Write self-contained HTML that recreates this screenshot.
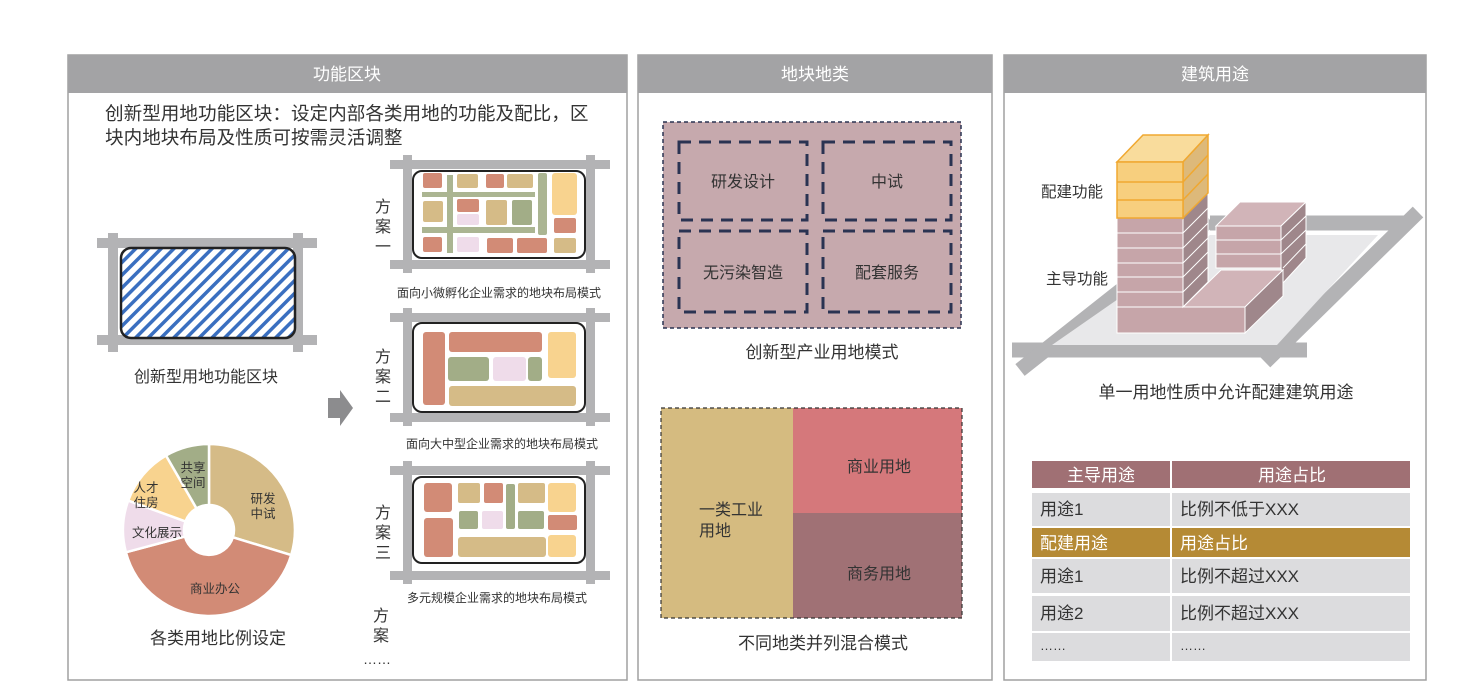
<!DOCTYPE html>
<html><head><meta charset="utf-8"><style>
html,body{margin:0;padding:0;background:#fff}
svg{display:block}
text{font-family:"Liberation Sans","Noto Sans CJK SC",sans-serif;fill:#333}
</style></head><body>
<svg width="1482" height="692" viewBox="0 0 1482 692" xmlns="http://www.w3.org/2000/svg">
<defs>
<pattern id="hatch" width="9" height="9" patternUnits="userSpaceOnUse" patternTransform="rotate(45)">
<rect width="9" height="9" fill="#fff"/><rect x="0" y="0" width="3.5" height="9" fill="#3a6fc0"/>
</pattern>
</defs>
<g fill="#fff" stroke="#a0a0a0" stroke-width="1.5">
<rect x="68" y="55" width="559" height="625"/>
<rect x="638" y="55" width="354" height="625"/>
<rect x="1004" y="55" width="422" height="625"/>
</g>
<g fill="#a3a3a5">
<rect x="68" y="55" width="559" height="38"/>
<rect x="638" y="55" width="354" height="38"/>
<rect x="1004" y="55" width="422" height="38"/>
</g>
<g font-size="17" text-anchor="middle">
<text x="347" y="80" style="fill:#fff">功能区块</text>
<text x="815" y="80" style="fill:#fff">地块地类</text>
<text x="1215" y="80" style="fill:#fff">建筑用途</text>
</g>
<text x="105" y="120" font-size="18.6">创新型用地功能区块：设定内部各类用地的功能及配比，区</text>
<text x="105" y="144" font-size="18.6">块内地块布局及性质可按需灵活调整</text>

<g fill="#b3b3b5">
<rect x="97" y="238" width="220" height="10"/><rect x="97" y="335" width="220" height="10"/>
<rect x="108" y="233" width="10" height="119"/><rect x="293" y="233" width="10" height="119"/>
</g>
<rect x="121" y="248" width="174" height="90" rx="10" fill="url(#hatch)" stroke="#222" stroke-width="2.5"/>
<text x="206" y="382" font-size="16" text-anchor="middle">创新型用地功能区块</text>
<polygon points="328,398 340,398 340,390 353,408 340,426 340,418 328,418" fill="#8c8c8e"/>

<g stroke="#fff" stroke-width="2.5">
<path d="M209,444 A86,86 0 0 1 291.2,555.1 L232.9,537.3 A25,25 0 0 0 209,505 Z" fill="#d5bb87"/>
<path d="M291.2,555.1 A86,86 0 0 1 125.9,552.3 L184.9,536.5 A25,25 0 0 0 232.9,537.3 Z" fill="#d28b76"/>
<path d="M125.9,552.3 A86,86 0 0 1 128.2,500.6 L185.5,521.4 A25,25 0 0 0 184.9,536.5 Z" fill="#efdcea"/>
<path d="M128.2,500.6 A86,86 0 0 1 166,455.5 L196.5,508.4 A25,25 0 0 0 185.5,521.4 Z" fill="#f8d38f"/>
<path d="M166,455.5 A86,86 0 0 1 209,444 L209,505 A25,25 0 0 0 196.5,508.4 Z" fill="#a2ad87"/>
</g>
<g font-size="12.5" text-anchor="middle">
<text x="193" y="472">共享</text><text x="193" y="487">空间</text>
<text x="146" y="492">人才</text><text x="146" y="507">住房</text>
<text x="157" y="537">文化展示</text>
<text x="263" y="503">研发</text><text x="263" y="518">中试</text>
<text x="215" y="593">商业办公</text>
</g>
<text x="218" y="644" font-size="17" text-anchor="middle">各类用地比例设定</text>

<g fill="#b3b3b5">
<rect x="390" y="160" width="220" height="9"/><rect x="390" y="260" width="220" height="9"/>
<rect x="403" y="155" width="9" height="118"/><rect x="586" y="155" width="9" height="118"/>
<rect x="390" y="313" width="220" height="9"/><rect x="390" y="413" width="220" height="9"/>
<rect x="403" y="308" width="9" height="118"/><rect x="586" y="308" width="9" height="118"/>
<rect x="390" y="466" width="220" height="9"/><rect x="390" y="571" width="220" height="9"/>
<rect x="403" y="461" width="9" height="123"/><rect x="586" y="461" width="9" height="123"/>
</g>
<g fill="#fff" stroke="#222" stroke-width="2">
<rect x="413" y="171" width="172" height="87" rx="9"/>
<rect x="413" y="323" width="172" height="89" rx="9"/>
<rect x="413" y="477" width="172" height="86" rx="9"/>
</g>
<g>
<rect x="423" y="173" width="19" height="15" rx="2" fill="#d28b76"/>
<rect x="457" y="174" width="21" height="14" rx="2" fill="#d5bb87"/>
<rect x="486" y="174" width="18" height="14" rx="2" fill="#d28b76"/>
<rect x="507" y="174" width="26" height="14" rx="2" fill="#d5bb87"/>
<rect x="552" y="173" width="25" height="42" rx="3" fill="#f8d38f"/>
<rect x="423" y="201" width="20" height="21" rx="2" fill="#d5bb87"/>
<rect x="457" y="199" width="22" height="13" rx="2" fill="#d28b76"/>
<rect x="457" y="214" width="22" height="11" rx="2" fill="#efdcea"/>
<rect x="486" y="200" width="21" height="25" rx="2" fill="#d5bb87"/>
<rect x="512" y="200" width="20" height="25" rx="2" fill="#a2ad87"/>
<rect x="554" y="218" width="22" height="15" rx="2" fill="#d28b76"/>
<rect x="423" y="237" width="19" height="15" rx="2" fill="#d28b76"/>
<rect x="457" y="237" width="22" height="15" rx="2" fill="#efdcea"/>
<rect x="487" y="238" width="26" height="15" rx="2" fill="#d28b76"/>
<rect x="517" y="238" width="30" height="15" rx="2" fill="#d28b76"/>
<rect x="554" y="238" width="22" height="15" rx="2" fill="#d5bb87"/>
<g fill="#a2ad87" opacity="0.9">
<rect x="422" y="192" width="113" height="5"/><rect x="422" y="227" width="113" height="6"/>
<rect x="447" y="175" width="6" height="78"/><rect x="538" y="173" width="9" height="62" rx="2"/>
</g>
<rect x="423" y="332" width="22" height="73" rx="3" fill="#d28b76"/>
<rect x="449" y="332" width="93" height="20" rx="3" fill="#d28b76"/>
<rect x="548" y="332" width="28" height="46" rx="3" fill="#f8d38f"/>
<rect x="448" y="357" width="41" height="24" rx="3" fill="#a2ad87"/>
<rect x="493" y="357" width="33" height="24" rx="3" fill="#efdcea"/>
<rect x="528" y="357" width="14" height="24" rx="3" fill="#a2ad87"/>
<rect x="449" y="386" width="127" height="20" rx="3" fill="#d5bb87"/>
<rect x="424" y="483" width="28" height="29" rx="3" fill="#d28b76"/>
<rect x="424" y="518" width="29" height="39" rx="3" fill="#d28b76"/>
<rect x="458" y="483" width="22" height="20" rx="2" fill="#d5bb87"/>
<rect x="484" y="483" width="19" height="20" rx="2" fill="#d28b76"/>
<rect x="506" y="484" width="9" height="45" rx="2" fill="#a2ad87"/>
<rect x="518" y="483" width="27" height="20" rx="2" fill="#d5bb87"/>
<rect x="548" y="483" width="28" height="29" rx="3" fill="#f8d38f"/>
<rect x="459" y="511" width="19" height="18" rx="2" fill="#a2ad87"/>
<rect x="482" y="511" width="21" height="18" rx="2" fill="#efdcea"/>
<rect x="518" y="511" width="26" height="18" rx="2" fill="#a2ad87"/>
<rect x="548" y="515" width="29" height="15" rx="2" fill="#d28b76"/>
<rect x="458" y="537" width="88" height="20" rx="3" fill="#d5bb87"/>
<rect x="548" y="535" width="28" height="22" rx="3" fill="#f8d38f"/>
</g>
<g font-size="16" text-anchor="middle">
<text x="383" y="212">方</text><text x="383" y="232">案</text><text x="383" y="252">一</text>
<text x="383" y="362">方</text><text x="383" y="382">案</text><text x="383" y="402">二</text>
<text x="383" y="518">方</text><text x="383" y="538">案</text><text x="383" y="558">三</text>
<text x="381" y="621">方</text><text x="381" y="641">案</text>
</g>
<text x="363" y="664" font-size="14">……</text>
<g font-size="12" text-anchor="middle">
<text x="499" y="297">面向小微孵化企业需求的地块布局模式</text>
<text x="502" y="448">面向大中型企业需求的地块布局模式</text>
<text x="497" y="602">多元规模企业需求的地块布局模式</text>
</g>

<rect x="663" y="122" width="298" height="206" fill="#c6a9ad" stroke="#2a3352" stroke-width="1.5" stroke-dasharray="4 3"/>
<g fill="none" stroke="#2a3352" stroke-width="3" stroke-dasharray="12 8">
<rect x="679" y="142" width="128" height="78"/><rect x="823" y="142" width="128" height="78"/>
<rect x="679" y="231" width="128" height="81"/><rect x="823" y="231" width="128" height="81"/>
</g>
<g font-size="16" text-anchor="middle">
<text x="743" y="187">研发设计</text><text x="887" y="187">中试</text>
<text x="743" y="278">无污染智造</text><text x="887" y="278">配套服务</text>
<text x="822" y="358" font-size="17">创新型产业用地模式</text>
</g>
<rect x="661" y="408" width="132" height="210" fill="#d5bb80"/>
<rect x="793" y="408" width="169" height="105" fill="#d5787b"/>
<rect x="793" y="513" width="169" height="105" fill="#a07175"/>
<rect x="661" y="408" width="301" height="210" fill="none" stroke="#333" stroke-width="1.2" stroke-dasharray="4 3"/>
<g font-size="16" text-anchor="middle">
<text x="731" y="515">一类工业</text><text x="715" y="536">用地</text>
<text x="879" y="472">商业用地</text><text x="879" y="579">商务用地</text>
<text x="823" y="649" font-size="17">不同地类并列混合模式</text>
</g>

<g stroke="#b3b3b5" stroke-width="15" fill="none">
<line x1="1012" y1="350" x2="1307" y2="350"/>
<line x1="1020" y1="370" x2="1210" y2="220"/>
<line x1="1265" y1="362" x2="1418" y2="212"/>
<line x1="1210" y1="223" x2="1410" y2="223"/>
</g>
<polygon points="1052,345 1277,345 1378,235 1210,235" fill="#e8e8ea"/>
<g stroke="#fff" stroke-width="1">
<polygon points="1216,226 1240,202 1306,202 1281,226" fill="#d1b4b8"/>
<polygon points="1281,226 1306,202 1306,258 1283,283 1281,268" fill="#9f878b"/>
<rect x="1216" y="226" width="65" height="42" fill="#c6a5a9"/>
<line x1="1216" y1="240" x2="1281" y2="240"/><line x1="1216" y1="254" x2="1281" y2="254"/>
<line x1="1281" y1="240" x2="1306" y2="216"/><line x1="1281" y1="254" x2="1306" y2="230"/><line x1="1283" y1="268" x2="1306" y2="244"/>
<polygon points="1183,307 1245,307 1283,270 1221,270" fill="#d1b4b8"/>
<polygon points="1245,307 1283,270 1283,296 1245,333" fill="#9f878b"/>
<rect x="1117" y="307" width="128" height="26" fill="#c6a5a9"/>
<rect x="1117" y="218" width="66" height="89" fill="#c6a5a9"/>
<polygon points="1183,218 1208,193 1208,282 1183,307" fill="#9f878b"/>
<line x1="1117" y1="233" x2="1183" y2="233"/><line x1="1117" y1="248" x2="1183" y2="248"/>
<line x1="1117" y1="263" x2="1183" y2="263"/><line x1="1117" y1="277" x2="1183" y2="277"/>
<line x1="1117" y1="292" x2="1183" y2="292"/>
<line x1="1183" y1="233" x2="1208" y2="208"/><line x1="1183" y1="248" x2="1208" y2="223"/>
<line x1="1183" y1="263" x2="1208" y2="238"/><line x1="1183" y1="277" x2="1208" y2="252"/>
<line x1="1183" y1="292" x2="1208" y2="267"/>
</g>
<g stroke="#f0a830" stroke-width="1.5">
<polygon points="1117,162 1143,135 1208,135 1183,162" fill="#f9dc9c"/>
<polygon points="1183,162 1208,135 1208,193 1183,218" fill="#ddb97a"/>
<rect x="1117" y="162" width="66" height="56" fill="#f7cf7e"/>
<line x1="1117" y1="182" x2="1183" y2="182"/><line x1="1117" y1="200" x2="1183" y2="200"/>
<line x1="1183" y1="182" x2="1208" y2="155"/><line x1="1183" y1="200" x2="1208" y2="174"/>
</g>
<g font-size="15.5">
<text x="1041" y="197">配建功能</text>
<text x="1046" y="284">主导功能</text>
</g>
<text x="1226" y="398" font-size="17" text-anchor="middle">单一用地性质中允许配建建筑用途</text>

<rect x="1032" y="461" width="138" height="27" fill="#a07074"/>
<rect x="1172" y="461" width="238" height="27" fill="#a07074"/>
<g fill="#dcdcde">
<rect x="1032" y="493" width="138" height="33"/><rect x="1172" y="493" width="238" height="33"/>
<rect x="1032" y="559" width="138" height="34"/><rect x="1172" y="559" width="238" height="34"/>
<rect x="1032" y="596" width="138" height="35"/><rect x="1172" y="596" width="238" height="35"/>
<rect x="1032" y="633" width="138" height="28"/><rect x="1172" y="633" width="238" height="28"/>
</g>
<rect x="1032" y="528" width="138" height="29" fill="#b58a35"/>
<rect x="1172" y="528" width="238" height="29" fill="#b58a35"/>
<g font-size="17">
<text x="1101" y="481" text-anchor="middle" style="fill:#fff">主导用途</text>
<text x="1292" y="481" text-anchor="middle" style="fill:#fff">用途占比</text>
<text x="1040" y="515">用途1</text><text x="1180" y="515">比例不低于XXX</text>
<text x="1040" y="549" style="fill:#fff">配建用途</text><text x="1180" y="549" style="fill:#fff">用途占比</text>
<text x="1040" y="582">用途1</text><text x="1180" y="582">比例不超过XXX</text>
<text x="1040" y="619">用途2</text><text x="1180" y="619">比例不超过XXX</text>
<text x="1040" y="650" font-size="13">……</text><text x="1180" y="650" font-size="13">……</text>
</g>
</svg>
</body></html>
